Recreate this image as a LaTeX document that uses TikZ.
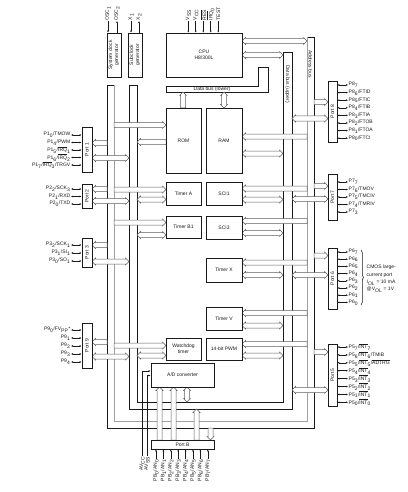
\documentclass[tikz,border=0pt]{standalone}
\usepackage{fontspec}
\setmainfont{Liberation Sans}
\usepackage{graphicx}
\usetikzlibrary{arrows.meta,decorations.pathreplacing}
\definecolor{ink}{HTML}{1A1A1A}
\definecolor{lgray}{HTML}{A0A0A0}
\newcommand{\ovl}[1]{$\overline{\mbox{#1}}$}
% hollow bus arrows: from #1 to #2 at #3
\newcommand{\busboth}[3]{%
  \filldraw[bus] (#1,#3) -- ({#1+3.5},{#3-3.5}) -- ({#1+3.5},{#3-2.5})
    -- ({#2-3.5},{#3-2.5}) -- ({#2-3.5},{#3-3.5}) -- (#2,#3)
    -- ({#2-3.5},{#3+3.5}) -- ({#2-3.5},{#3+2.5})
    -- ({#1+3.5},{#3+2.5}) -- ({#1+3.5},{#3+3.5}) -- cycle;}
\newcommand{\busto}[3]{%
  \filldraw[bus] (#1,{#3-2.5}) -- ({#2-3.5*sign(#2-#1)},{#3-2.5})
    -- ({#2-3.5*sign(#2-#1)},{#3-3.5}) -- (#2,#3)
    -- ({#2-3.5*sign(#2-#1)},{#3+3.5}) -- ({#2-3.5*sign(#2-#1)},{#3+2.5})
    -- (#1,{#3+2.5}) -- cycle;}

\begin{document}
\begin{tikzpicture}[x=1pt,y=-1pt,font=\fontsize{5}{6}\selectfont,text=ink,
  >={Latex[length=2pt,width=1.8pt]},
  mod/.style={draw=ink,line width=.7pt,fill=white,inner sep=0pt,align=center},
  port/.style={draw=ink,line width=.7pt,fill=white,inner sep=0pt},
  bus/.style={draw=ink!70,fill=white,line width=.5pt},
  pinline/.style={<->,draw=ink,line width=.5pt},
  sig/.style={draw=ink,line width=.5pt},
  lab/.style={inner sep=.5pt}]
  \fill[white] (0,0) rectangle (407,492);
  \useasboundingbox (0,0) rectangle (407,492);

  % data bus loop and address bus loop
  \draw[ink,line width=.7pt] (129,85) -- (137,85);
  \draw[ink,line width=.7pt] (129,85) -- (129,409) -- (292,409) -- (292,52) -- (283,52)
    -- (283,402) -- (137,402) -- (137,85);
  \draw[ink,line width=.7pt] (114,85) -- (107,85) -- (107,428) -- (314,428) -- (314,37) -- (307,37);
  \draw[lgray,line width=.7pt] (114,85) -- (114,421) -- (307,421) -- (307,37);
  \node[rotate=-90] (dbu) at (287.5,84) {Data bus (upper)};
  \node[rotate=-90] (abus) at (310.5,64) {Address bus};

  \draw[ink,line width=.7pt,fill=white] (166,86) -- (258,86) -- (258,67) -- (268,67)
    -- (268,92) -- (166,92) -- cycle;
  \node (dbl) at (212,89) {Data bus (lower)};

  % CPU
  \busboth{242}{307}{41}
  \busboth{242}{283}{55}
  \begin{scope}[x={(0pt,-1pt)},y={(1pt,0pt)}]
    \busto{108}{92}{183}
    \busboth{92}{108}{224}
    \busto{440}{387}{159.5}
    \busto{440}{387}{173.5}
    \busboth{387}{402}{187}
    \busto{440}{409}{196.5}
    \busto{428}{440}{210.5}
  \end{scope}

  % left modules
  \busto{114}{166}{125}   \busto{166}{137}{142}
  \busto{114}{166}{189.5} \busboth{137}{166}{199.5}
  \busto{114}{166}{222.5} \busboth{137}{166}{235}
  \busto{114}{166}{345.5} \busboth{137}{166}{355.5}
  % right modules
  \busto{307}{242}{136.5} \busboth{242}{283}{153.5}
  \busto{307}{242}{188.5} \busboth{242}{283}{199.5}
  \busto{307}{242}{221}   \busboth{242}{283}{233}
  \busto{307}{242}{262.5} \busboth{242}{283}{275}
  \busto{307}{242}{313}   \busboth{242}{283}{325.5}
  \busto{307}{242}{344}   \busboth{242}{283}{355.5}
  % ports
  \busto{107}{92}{143}   \busboth{92}{129}{158}
  \busto{107}{92}{189}   \busboth{92}{129}{201}
  \busto{107}{92}{245}   \busboth{92}{129}{261.5}
  \busto{107}{92}{342}   \busboth{92}{129}{356.5}
  \busto{314}{328}{102}  \busboth{292}{328}{118.5}
  \busto{314}{328}{186}  \busboth{292}{328}{199}
  \busto{314}{328}{255.5} \busboth{292}{328}{275}
  \busto{314}{328}{352}  \busboth{292}{328}{390}

  \node[mod,minimum width=76,minimum height=44] (cpu) at (204,55) {CPU\\H8/300L};
  \node[mod,minimum width=35,minimum height=65] (rom) at (183.5,140.5) {ROM};
  \node[mod,minimum width=36,minimum height=65] (ram) at (224,140.5) {RAM};
  \node[mod,minimum width=35,minimum height=23] (tima) at (183.5,193.5) {Timer A};
  \node[mod,minimum width=36,minimum height=23] (sci1) at (224,193.5) {SCI1};
  \node[mod,minimum width=35,minimum height=22] (timb) at (183.5,227) {Timer B1};
  \node[mod,minimum width=36,minimum height=23] (sci3) at (224,227.5) {SCI3};
  \node[mod,minimum width=36,minimum height=24] (timx) at (224,270) {Timer X};
  \node[mod,minimum width=36,minimum height=23] (timv) at (224,318.5) {Timer V};
  \node[mod,minimum width=35,minimum height=22] (wdt) at (183.5,349) {Watchdog\\timer};
  \node[mod,minimum width=36,minimum height=22] (pwm) at (224,349) {14-bit PWM};
  \node[mod,minimum width=63,minimum height=24] (adc) at (182.5,375) {A/D converter};
  \node[mod,minimum width=14,minimum height=44] (sysclk) at (114,55)
    {\rotatebox{90}{\begin{tabular}{@{}c@{}}System clock\\generator\end{tabular}}};
  \node[mod,minimum width=14,minimum height=44] (subclk) at (135,55)
    {\rotatebox{90}{\begin{tabular}{@{}c@{}}Subclock\\generator\end{tabular}}};

  % clock and CPU pins
  \node[lab,rotate=90,anchor=west] (osc1) at (108,21) {OSC\textsubscript{1}};
  \node[lab,rotate=90,anchor=west] (osc2) at (117,21) {OSC\textsubscript{2}};
  \node[lab,rotate=90,anchor=west] (x1) at (131,21) {X\textsubscript{1}};
  \node[lab,rotate=90,anchor=west] (x2) at (139,21) {X\textsubscript{2}};
  \draw[sig,->] (osc1.west) -- (osc1.west |- sysclk.north);
  \draw[sig,<-] (osc2.west) -- (osc2.west |- sysclk.north);
  \draw[sig,->] (x1.west) -- (x1.west |- subclk.north);
  \draw[sig,<-] (x2.west) -- (x2.west |- subclk.north);
  \foreach \t/\x [count=\i] in {{V\textsubscript{SS}}/188.3,{V\textsubscript{CC}}/195.7,
      {\ovl{RES}}/203.3,{\ovl{IRQ}\textsubscript{0}}/210.7,TEST/218.3}{
    \node[lab,rotate=90,anchor=west] (cp\i) at (\x,21) {\t};
    \draw[sig,->] (cp\i.west) -- (cp\i.west |- cpu.north);
  }

  % left ports
  \node[port,minimum width=10,minimum height=45] (port1) at (87,149.5) {\rotatebox{90}{Port 1}};
  \node[port,minimum width=10,minimum height=24] (port2) at (87,196) {\rotatebox{90}{Port 2}};
  \node[port,minimum width=10,minimum height=29] (port3) at (87,252.5) {\rotatebox{90}{Port 3}};
  \node[port,minimum width=10,minimum height=45] (port9) at (87,345.5) {\rotatebox{90}{Port 9}};
  \foreach \t [count=\i] in {{P1\textsubscript{0}/TMOW},{P1\textsubscript{4}/PWM},
      {P1\textsubscript{5}/\ovl{IRQ}\textsubscript{1}},{P1\textsubscript{6}/\ovl{IRQ}\textsubscript{2}},
      {P1\textsubscript{7}/\ovl{IRQ}\textsubscript{3}/TRGV}}{
    \node[lab,anchor=east] (p1-\i) at (71,{127.5+7.5*\i}) {\t};
    \draw[pinline] (p1-\i.east) -- (p1-\i.east -| port1.west);
  }
  \foreach \t [count=\i] in {{P2\textsubscript{2}/SCK\textsubscript{3}},{P2\textsubscript{1}/RXD},
      {P2\textsubscript{0}/TXD}}{
    \node[lab,anchor=east] (p2-\i) at (71,{181.5+7.5*\i}) {\t};
    \draw[pinline] (p2-\i.east) -- (p2-\i.east -| port2.west);
  }
  \foreach \t [count=\i] in {{P3\textsubscript{2}/SCK\textsubscript{1}},{P3\textsubscript{1}/SI\textsubscript{1}},
      {P3\textsubscript{0}/SO\textsubscript{1}}}{
    \node[lab,anchor=east] (p3-\i) at (71,{237+8*\i}) {\t};
    \draw[pinline] (p3-\i.east) -- (p3-\i.east -| port3.west);
  }
  \foreach \t [count=\i] in {{P9\textsubscript{0}/FV\textsubscript{PP}*},{P9\textsubscript{1}},
      {P9\textsubscript{2}},{P9\textsubscript{3}},{P9\textsubscript{4}}}{
    \node[lab,anchor=east] (p9-\i) at (71,{322+8*\i}) {\t};
    \draw[pinline] (p9-\i.east) -- (p9-\i.east -| port9.west);
  }

  % right ports
  \node[port,minimum width=9,minimum height=61] (port8) at (332.5,111.5) {\rotatebox{90}{Port 8}};
  \node[port,minimum width=9,minimum height=46] (port7) at (332.5,197) {\rotatebox{90}{Port 7}};
  \node[port,minimum width=9,minimum height=61] (port6) at (332.5,278.5) {\rotatebox{90}{Port 6}};
  \node[port,minimum width=9,minimum height=62] (port5) at (332.5,375) {\rotatebox{90}{Port 5}};
  \foreach \t [count=\i] in {{P8\textsubscript{7}},{P8\textsubscript{6}/FTID},{P8\textsubscript{5}/FTIC},
      {P8\textsubscript{4}/FTIB},{P8\textsubscript{3}/FTIA},{P8\textsubscript{2}/FTOB},
      {P8\textsubscript{1}/FTOA},{P8\textsubscript{0}/FTCI}}{
    \node[lab,anchor=west] (p8-\i) at (348,{77.4+7.6*\i}) {\t};
    \draw[pinline] (p8-\i.west -| port8.east) -- (p8-\i.west);
  }
  \foreach \t [count=\i] in {{P7\textsubscript{7}},{P7\textsubscript{6}/TMOV},{P7\textsubscript{5}/TMCIV},
      {P7\textsubscript{4}/TMRIV},{P7\textsubscript{3}}}{
    \node[lab,anchor=west] (p7-\i) at (348,{174.5+7.5*\i}) {\t};
    \draw[pinline] (p7-\i.west -| port7.east) -- (p7-\i.west);
  }
  \foreach \i in {0,...,7}{
    \pgfmathtruncatemacro\k{7-\i}
    \node[lab,anchor=west] (p6-\i) at (348,{252+7.2*\i}) {P6\textsubscript{\k}};
    \draw[pinline] (p6-\i.west -| port6.east) -- (p6-\i.west);
  }
  \draw[sig,decorate,decoration={brace,amplitude=2.5pt}] (361,250) -- (361,305);
  \node[lab,anchor=west,align=left,font=\fontsize{5}{7.3}\selectfont] (cmos) at (366,279)
    {CMOS large-\\current port\\I\textsubscript{OL} = 10 mA\\@V\textsubscript{OL} = 1V};
  \foreach \t [count=\i] in {{P5\textsubscript{7}/\ovl{INT}\textsubscript{7}},
      {P5\textsubscript{6}/\ovl{INT}\textsubscript{6}/TMIB},
      {P5\textsubscript{5}/\ovl{INT}\textsubscript{5}/\ovl{ADTRG}},
      {P5\textsubscript{4}/\ovl{INT}\textsubscript{4}},{P5\textsubscript{3}/\ovl{INT}\textsubscript{3}},
      {P5\textsubscript{2}/\ovl{INT}\textsubscript{2}},{P5\textsubscript{1}/\ovl{INT}\textsubscript{1}},
      {P5\textsubscript{0}/\ovl{INT}\textsubscript{0}}}{
    \node[lab,anchor=west] (p5-\i) at (348,{339.1+7.9*\i}) {\t};
    \draw[pinline] (p5-\i.west -| port5.east) -- (p5-\i.west);
  }

  % port B and analog supply
  \node[port,minimum width=63,minimum height=9] (portb) at (182.5,444.5) {Port B};
  \foreach \i in {0,...,7}{
    \node[lab,rotate=90,anchor=east] (pb\i) at ({156+7.4*\i},459)
      {PB\textsubscript{\i}/AN\textsubscript{\i}};
    \draw[sig,->] (pb\i.east) -- (pb\i.east |- portb.south);
  }
  \node[lab,rotate=90,anchor=east] (avcc) at (142,456) {AV\textsubscript{CC}};
  \node[lab,rotate=90,anchor=east] (avss) at (147,456) {AV\textsubscript{SS}};
  \draw[sig,->] (avcc.east) |- (adc.west |- 0,371);
  \draw[sig,->] (avss.east) |- (adc.west |- 0,375.5);
\end{tikzpicture}
\end{document}
